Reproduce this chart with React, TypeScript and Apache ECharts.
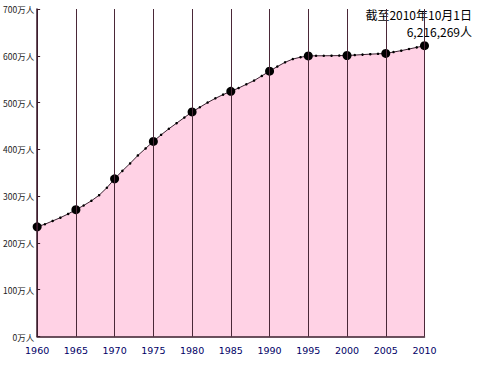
import React, { useEffect, useRef } from "react";
import * as echarts from "echarts";

const years: number[] = [
  1960, 1961, 1962, 1963, 1964, 1965, 1966, 1967, 1968, 1969,
  1970, 1971, 1972, 1973, 1974, 1975, 1976, 1977, 1978, 1979,
  1980, 1981, 1982, 1983, 1984, 1985, 1986, 1987, 1988, 1989,
  1990, 1991, 1992, 1993, 1994, 1995, 1996, 1997, 1998, 1999,
  2000, 2001, 2002, 2003, 2004, 2005, 2006, 2007, 2008, 2009, 2010,
];
// population in 万人
const population: number[] = [
  234.5, 240, 247, 254, 262, 271, 280, 290, 302, 318,
  337, 354, 370, 387, 402, 417, 431, 444, 456, 468,
  480, 490, 500, 509, 517, 524, 531, 539, 547, 557,
  567, 577, 586, 593, 597, 599.6, 600, 600, 600.2, 600.4,
  600.6, 601.5, 602.5, 603.5, 604.2, 605, 608, 611, 614.5, 618, 621.6,
];
const noteLines: string[] = ["截至2010年10月1日", "6,216,269人"];

export default function App() {
  const ref = useRef<HTMLDivElement>(null);
  useEffect(() => {
    if (!ref.current) return;
    const chart = echarts.init(ref.current, null, { renderer: "svg" });
    chart.setOption({
      animation: false,
      grid: { left: 32, right: 55.5, top: 9, bottom: 37.5, containLabel: false },
      xAxis: {
        type: "value",
        min: 1960,
        max: 2010,
        interval: 5,
        z: 3,
        axisLine: { show: true, lineStyle: { color: "#3a1a2a", width: 1.5 } },
        axisTick: { show: false },
        axisLabel: {
          color: "#000066",
          fontFamily: "DejaVu Sans",
          fontSize: 9.5,
          margin: 9,
          formatter: (v: number) => String(v),
        },
        splitLine: { show: true, lineStyle: { color: "#4a2838", width: 1 } },
      },
      yAxis: {
        type: "value",
        min: 0,
        max: 700,
        interval: 100,
        z: 3,
        axisLine: { show: true, lineStyle: { color: "#3a1a2a", width: 1.5 } },
        axisTick: { show: true, inside: true, length: 3, lineStyle: { color: "#3a1a2a" } },
        axisLabel: {
          color: "#222222",
          fontFamily: "Noto Sans CJK SC",
          fontSize: 8.5,
          margin: 3,
          formatter: (v: number) => `${v}万人`,
        },
        splitLine: { show: false },
      },
      series: [
        {
          type: "line",
          data: years.map((y, i) => [y, population[i]]),
          symbol: "circle",
          symbolSize: (val: number[]) => (val[0] % 5 === 0 ? 9 : 2.5),
          showAllSymbol: true,
          itemStyle: { color: "#000000" },
          lineStyle: { color: "#3a2030", width: 1 },
          areaStyle: { color: "#ffd2e5", opacity: 1 },
          z: 2,
        },
      ],
      graphic: [
        {
          type: "text",
          right: 8,
          top: 8,
          style: {
            text: noteLines[0],
            fill: "#000",
            font: '12px "Noto Sans CJK SC"',
          },
        },
        {
          type: "text",
          right: 8,
          top: 25,
          style: {
            text: noteLines[1],
            fill: "#000",
            font: '12px "Noto Sans CJK SC"',
          },
        },
      ],
    });
    return () => chart.dispose();
  }, []);
  return (
    <div
      ref={ref}
      style={{ position: "fixed", left: 0, top: 0, width: 480, height: 374, background: "#fff" }}
    />
  );
}
